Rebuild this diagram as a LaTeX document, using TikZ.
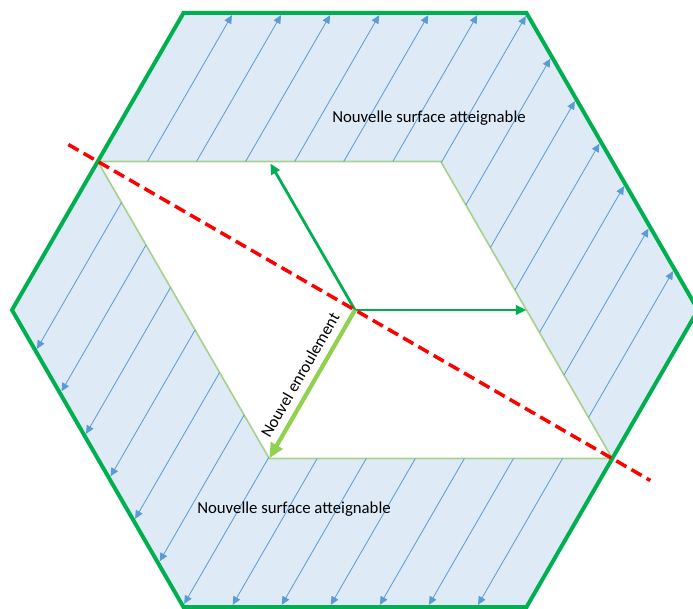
\documentclass[tikz,border=0pt]{standalone}
\usepackage{fontspec}
\setmainfont{Carlito}
\usepackage{tikz}
\usetikzlibrary{arrows.meta,calc}
\definecolor{hexgreen}{RGB}{0,176,80}
\definecolor{rhombgreen}{RGB}{169,209,142}
\definecolor{windgreen}{RGB}{146,208,80}
\definecolor{flowblue}{RGB}{91,155,213}
\definecolor{areablue}{RGB}{222,235,247}
\definecolor{cutred}{RGB}{255,0,0}

\begin{document}
\begin{tikzpicture}[x=0.03cm, y=0.03cm,
  hexa/.style ={draw=hexgreen, line width=3.4pt},
  rhomb/.style={draw=rhombgreen, line width=1.4pt},
  area/.style ={fill=areablue, even odd rule},
  flow/.style ={draw=flowblue, line width=0.7pt, -{Triangle[length=7pt,width=6.5pt]}},
  vec/.style  ={draw=hexgreen, line width=2.4pt, -{Triangle[length=9pt,width=8pt]}},
  wind/.style ={draw=windgreen, line width=3.6pt, -{Triangle[length=13pt,width=11pt]}},
  cut/.style  ={draw=cutred, line width=3pt, dash pattern=on 10pt off 5pt},
  lbl/.style  ={font=\fontsize{14.3}{17}\selectfont, text=black, inner sep=0pt}
]
  %% ── Frame (picture is cut on the right, as in the sketch) ───────────────
  \useasboundingbox (-355,-298) rectangle (338,310);
  \clip (-355,-298) rectangle (338,310);

  %% ── Hexagon corners and inner rhombus ──────────────────────────────────
  \coordinate (O) at (0,0);
  \foreach \i in {1,...,6}
    \coordinate (h\i) at ({60*(\i-1)}:343);
  \coordinate (A) at ($(h3)!0.5!(h4)$);
  \coordinate (C) at ($(h6)!0.5!(h1)$);
  \coordinate (B) at ($(A)+(343,0)$);
  \coordinate (D) at ($(C)-(343,0)$);

  %% ── Reachable area: hexagon minus rhombus ──────────────────────────────
  \path[area] (h1) -- (h2) -- (h3) -- (h4) -- (h5) -- (h6) -- cycle
              (A) -- (B) -- (C) -- (D) -- cycle;
  \draw[rhomb] (A) -- (B) -- (C) -- (D) -- cycle;

  %% ── Flow lines, upper part and its point mirror ────────────────────────
  \foreach \k in {0,...,12}{
    \pgfmathsetmacro{\s}{-254+42.5*\k}
    \pgfmathsetmacro{\ta}{(148.5-0.5*abs(\s))/0.866}
    \pgfmathsetmacro{\tb}{(297-0.5*abs(\s))/0.866-2.5}
    \draw[flow] ({0.866*(\s)+0.5*\ta},{-0.5*(\s)+0.866*\ta})
             -- ({0.866*(\s)+0.5*\tb},{-0.5*(\s)+0.866*\tb});
    \draw[flow] ({-0.866*(\s)-0.5*\ta},{0.5*(\s)-0.866*\ta})
             -- ({-0.866*(\s)-0.5*\tb},{0.5*(\s)-0.866*\tb});
  }

  %% ── Hexagon border ─────────────────────────────────────────────────────
  \draw[hexa] (h1) -- (h2) -- (h3) -- (h4) -- (h5) -- (h6) -- cycle;

  %% ── Winding vectors ────────────────────────────────────────────────────
  \coordinate (e1) at ($(B)!0.5!(C)$);
  \coordinate (e2) at ($(A)!0.5!(B)$);
  \draw[vec] (O) -- (e1);
  \draw[vec, shorten >=2pt] (O) -- (e2);
  \draw[wind] (O) -- (D);
  \node[lbl, rotate=60] (wlbl) at (-55,-65) {Nouvel enroulement};

  %% ── Labels ─────────────────────────────────────────────────────────────
  \node[lbl] (top) at (74,192)   {Nouvelle surface atteignable};
  \node[lbl] (bot) at (-61,-199) {Nouvelle surface atteignable};

  %% ── Cut line through the rhombus corners ───────────────────────────────
  \coordinate (c1) at (150:331);
  \coordinate (c2) at (-30:341);
  \draw[cut] (c1) -- (c2);
\end{tikzpicture}
\end{document}
